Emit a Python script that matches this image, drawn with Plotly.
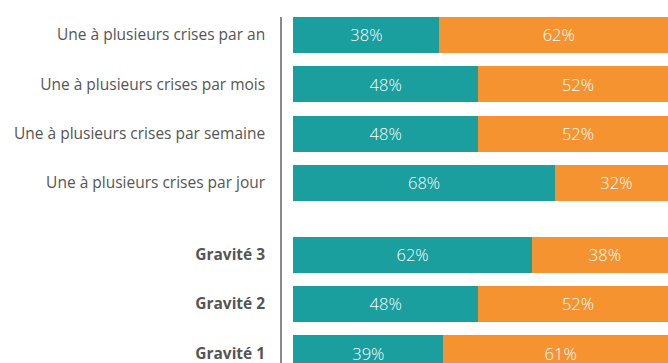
import plotly.graph_objects as go

# Survey shares by crisis frequency and by severity level (percent)
categories = [
    "Une à plusieurs crises par an",
    "Une à plusieurs crises par mois",
    "Une à plusieurs crises par semaine",
    "Une à plusieurs crises par jour",
    "<b>Gravité 3</b>",
    "<b>Gravité 2</b>",
    "<b>Gravité 1</b>",
]
# Row positions: frequency block, then a gap, then severity block
row_pos = [0, 1, 2, 3, 4.455, 5.455, 6.455]
share_a = [38, 48, 48, 68, 62, 48, 39]
share_b = [62, 52, 52, 32, 38, 52, 61]

TEAL = "#1a9e9e"
ORANGE = "#f69331"
TEXT = "#555555"
FONT = "Open Sans"

fig = go.Figure()
for vals, color in ((share_a, TEAL), (share_b, ORANGE)):
    fig.add_trace(go.Bar(
        y=row_pos, x=vals, orientation="h",
        marker=dict(color=color, line=dict(width=0)),
        width=0.73,
        text=[f"{v}%" for v in vals],
        textposition="inside", insidetextanchor="middle",
        textfont=dict(color="white", size=16.5, family=FONT, weight=300),
        cliponaxis=True,
        hoverinfo="skip",
    ))

fig.update_layout(
    width=668, height=363,
    margin=dict(l=282, r=0, t=17, b=0),
    barmode="stack",
    showlegend=False,
    plot_bgcolor="white", paper_bgcolor="white",
    uniformtext=dict(mode=False),
    xaxis=dict(range=[-2.94, 97.4], showgrid=False, zeroline=False,
               showticklabels=False, showline=False, fixedrange=True),
    yaxis=dict(range=[6.653, -0.365], tickvals=row_pos, ticktext=categories,
               showgrid=False, zeroline=False, showline=True,
               linecolor="#8a8a8a", linewidth=1.5, ticks="",
               ticklabelstandoff=12, ticklabeloverflow="allow",
               tickfont=dict(family=FONT, size=15.5, color=TEXT)),
)

fig.write_html("out.html")
